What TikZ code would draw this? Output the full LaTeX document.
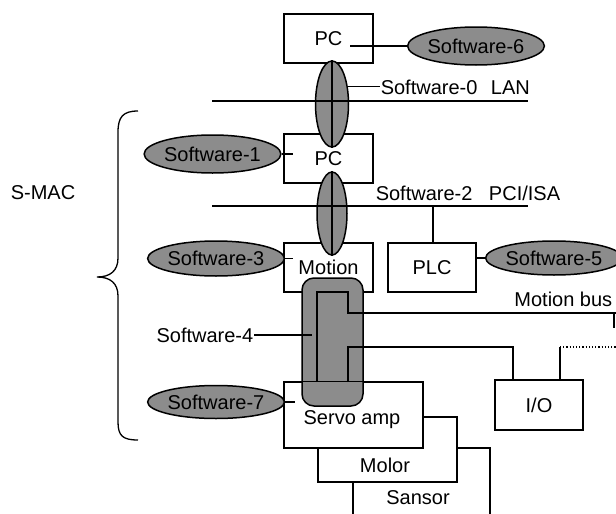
\documentclass[tikz,border=0pt]{standalone}
\usepackage{fontspec}
\setmainfont{Liberation Sans}
\usetikzlibrary{shapes.geometric}
\definecolor{swgray}{RGB}{140,140,140}
\begin{document}
\begin{tikzpicture}[x=1pt,y=-1pt,line width=1.5pt,
  txt/.style={font=\fontsize{20}{24}\selectfont},
  box/.style={draw,fill=white,rectangle,inner sep=0pt,txt},
  sw/.style={draw,ellipse,fill=swgray,inner sep=0pt,txt},
  lbl/.style={inner sep=0pt,txt}]
\useasboundingbox (0,0) rectangle (616,514);
\clip (0,0) rectangle (616,514);
% lower stack
\node[box,minimum width=137pt,minimum height=72pt] (sansor) at (421.5,484) {};
\node[lbl] (sansort) at (418,498) {Sansor};
\node[box,minimum width=139pt,minimum height=65pt] (motor) at (387.5,449.5) {};
\node[lbl] (motort) at (385,465) {Molor};
\node[box,minimum width=139pt,minimum height=66pt] (servo) at (353.5,415) {};
\node[lbl] (servot) at (352,420) {Servo amp};
% upper boxes
\node[box,minimum width=89pt,minimum height=49pt] (pc1) at (328.5,38.5) {PC};
\node[box,minimum width=89pt,minimum height=49pt] (pc2) at (328.5,158.5) {PC};
\node[box,minimum width=89pt,minimum height=49pt] (motion) at (328.5,267.5) {Motion};
\node[box,minimum width=88pt,minimum height=49pt] (plc) at (432,267.5) {PLC};
\node[box,minimum width=88pt,minimum height=50pt] (io) at (539,405) {I/O};
% vertical ellipses
\node[draw,ellipse,fill=swgray,inner sep=0pt,minimum width=33pt,minimum height=86pt] (ellA) at (332,104) {};
\node[draw,ellipse,fill=swgray,inner sep=0pt,minimum width=30pt,minimum height=83pt] (ellB) at (332,213.5) {};
\draw (ellA.north) -- (ellA.south);
\draw (ellB.north) -- (ellB.south);
% Software-4 rounded block
\node[draw,fill=swgray,rounded corners=12pt,minimum width=61pt,minimum height=128pt,inner sep=0pt] (blk) at (332.5,342) {};
\draw (servo.north west) -- (servo.north east);
\coordinate (m1) at (317,292);
\coordinate (m2) at (348,292);
\coordinate (m3) at (317,382);
\coordinate (m4) at (348,382);
\coordinate (mb1) at (348,313);
\coordinate (mb2) at (616,313);
\coordinate (mb3) at (614,328);
\coordinate (mbt) at (614,313);
\coordinate (i1) at (348,347);
\coordinate (i2) at (513,347);
\coordinate (d1) at (560,347);
\coordinate (d2) at (616,347);
\draw (m3) -- (m1) -- (m2) -- (mb1) -- (mb2);
\draw (mbt) -- (mb3);
\draw (m4) -- (i1) -- (i2) -- (i2 |- io.north);
\draw (d1 |- io.north) -- (d1);
\draw[dotted,line width=1.2pt] (d1) -- (d2);
% buses
\coordinate (lan1) at (212,101);
\coordinate (lan2) at (528,101);
\coordinate (pci1) at (212,206);
\coordinate (pci2) at (528,206);
\coordinate (pcib) at (433,206);
\draw (lan1) -- (lan2);
\draw (pci1) -- (pci2);
\draw (pcib) -- (pcib |- plc.north);
% labels
\node[lbl,anchor=west] (lanl) at (380,87) {Software-0\hspace{8pt} LAN};
\draw (ellA.48) -- (ellA.48 -| lanl.west);
\node[lbl,anchor=west] (pcil) at (375,193) {Software-2\hspace{11pt} PCI/ISA};
\node[lbl,anchor=east] (mbl) at (613,299) {Motion bus};
\node[lbl,anchor=east] (sw4l) at (254,335) {Software-4};
\coordinate (sw4e) at (312,335);
\draw (sw4l.east) -- (sw4e);
% software ellipses
\node[sw,minimum width=110pt,minimum height=38pt] (sw6) at (476,46) {Software-6};
\node[sw,minimum width=111pt,minimum height=38pt] (sw1) at (212.5,154) {Software-1};
\node[sw,minimum width=113pt,minimum height=35pt] (sw3) at (216,258.5) {Software-3};
\node[sw,minimum width=108pt,minimum height=34pt] (sw5) at (554,258) {Software-5};
\node[sw,minimum width=112pt,minimum height=33pt] (sw7) at (216,402) {Software-7};
\coordinate (pc1t) at (350,46);
\coordinate (pc2t) at (293,154);
\coordinate (mot) at (293,258.5);
\coordinate (svt) at (295,402);
\draw (pc1t) -- (sw6.west);
\draw (sw1.east) -- (pc2t);
\draw (sw3.east) -- (mot);
\draw (plc.east |- sw5.west) -- (sw5.west);
\draw (sw7.east) -- (svt);
% brace
\node[lbl] (smac) at (43,193) {S-MAC};
\draw[line width=1.3pt] (138,111) .. controls (123,111) and (118,117) .. (118,132) -- (118,258) .. controls (118,271) and (110,277) .. (97,277) .. controls (110,277) and (118,283) .. (118,296) -- (118,422) .. controls (118,436) and (123,440) .. (138,440);
\end{tikzpicture}
\end{document}
